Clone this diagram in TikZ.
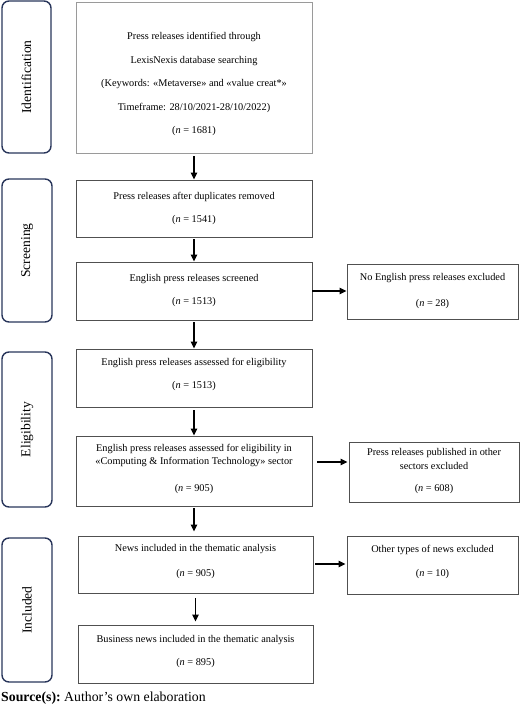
\documentclass[tikz,border=0pt]{standalone}
\usepackage{fontspec}
\setmainfont{Liberation Serif}
\usetikzlibrary{arrows.meta,positioning}
\definecolor{navy}{HTML}{28355A}
\definecolor{boxgray}{HTML}{505050}
\definecolor{lightgray}{HTML}{9A9A9A}
\tikzset{
  phase/.style={draw=navy, line width=1.4pt, rounded corners=7pt, inner sep=0pt},
  phaselabel/.style={rotate=90, font=\fontsize{13.6}{16}\selectfont},
  mainbox/.style={draw=boxgray, line width=0.9pt, inner sep=0pt, align=center,
    font=\fontsize{10.3}{12.6}\selectfont},
  arr/.style={line width=1.4pt, -{Triangle[length=7pt,width=6.5pt]}},
}
\newcommand{\boxat}[6]{% name, x1, y1, x2, y2, style
  \node[#6, minimum width={(#4-#2)*1pt}, minimum height={(#5-#3)*1pt}] (#1) at ({(#2+#4)/2},{(#3+#5)/2})}
\newcommand{\upby}[1]{\rule[-#1]{0pt}{#1}}
\begin{document}
\begin{tikzpicture}[x=1pt,y=-1pt]
\useasboundingbox (0,0) rectangle (520,705);
% phase boxes
\boxat{pid}{2}{1}{51}{153}{phase} {};
\boxat{pscr}{2}{179}{52}{322}{phase} {};
\boxat{peli}{2}{352}{52}{507}{phase} {};
\boxat{pinc}{2}{538}{52}{682}{phase} {};
\node[phaselabel] (lid) at (pid) {Identification};
\node[phaselabel] (lscr) at (pscr) {Screening};
\node[phaselabel] (leli) at (peli) {Eligibility};
\node[phaselabel] (linc) at (pinc) {Included};
% main boxes
\boxat{b1}{76}{2}{312}{153}{mainbox, draw=lightgray} {\rule{0pt}{21pt}Press releases identified through\\[10.9pt]
LexisNexis database searching\\[10.9pt]
(Keywords: «Metaverse» and «value creat*»\\[10.9pt]
Timeframe: 28/10/2021-28/10/2022)\\[10.9pt]
(\textit{n} = 1681)};
\boxat{b2}{76}{180}{312}{237}{mainbox} {Press releases after duplicates removed\\[10.4pt](\textit{n} = 1541)};
\boxat{b3}{76}{262}{312}{320}{mainbox} {English press releases screened\\[10.4pt](\textit{n} = 1513)};
\boxat{s1}{347}{264}{518}{319}{mainbox} {No English press releases excluded\\[13.4pt](\textit{n} = 28)};
\boxat{b4}{76}{349}{312}{407}{mainbox} {English press releases assessed for eligibility\\[10.4pt](\textit{n} = 1513)\upby{8.5pt}};
\boxat{b5}{76}{436}{312}{506}{mainbox} {English press releases assessed for eligibility in\\«Computing \& Information Technology» sector\\[14.4pt](\textit{n} = 905)\upby{6.5pt}};
\boxat{s2}{349}{442}{519}{502}{mainbox} {Press releases published in other\\[1.4pt]sectors excluded\\[9.4pt](\textit{n} = 608)\upby{4.5pt}};
\boxat{b6}{78}{536}{313}{593}{mainbox} {News included in the thematic analysis\\[12.4pt](\textit{n} = 905)\upby{8.5pt}};
\boxat{s3}{347}{536}{518}{594}{mainbox} {Other types of news excluded\\[11.4pt](\textit{n} = 10)\upby{8.5pt}};
\boxat{b7}{78}{625}{313}{683}{mainbox} {Business news included in the thematic analysis\\[10.4pt](\textit{n} = 895)\upby{6.5pt}};
% arrows
\draw[arr, shorten <=3pt] (b1.south) -- (b2.north);
\draw[arr, shorten <=2pt] (b2.south) -- (b3.north);
\draw[arr, shorten <=2pt] (b3.south) -- (b4.north);
\draw[arr, shorten <=3pt] (b4.south) -- (b5.north);
\draw[arr, shorten <=2pt, shorten >=4pt] (b5.south) -- (b5.south |- b6.north);
\draw[arr, shorten <=5pt, shorten >=3pt] (b6.south) -- (b6.south |- b7.north);
\draw[arr] (b3.east) -- (b3.east -| s1.west);
\draw[arr, shorten <=5pt, shorten >=1pt] ([yshift=9pt]b5.east) -- ([yshift=9pt]b5.east -| s2.west);
\draw[arr, shorten <=2pt, shorten >=1pt] ([yshift=0.5pt]b6.east) -- ([yshift=0.5pt]b6.east -| s3.west);
% source
\node[anchor=base west, inner sep=0pt, font=\fontsize{13.8}{16}\selectfont] (src) at (1,701) {\textbf{Source(s):}\ Author’s own elaboration};
\end{tikzpicture}
\end{document}
